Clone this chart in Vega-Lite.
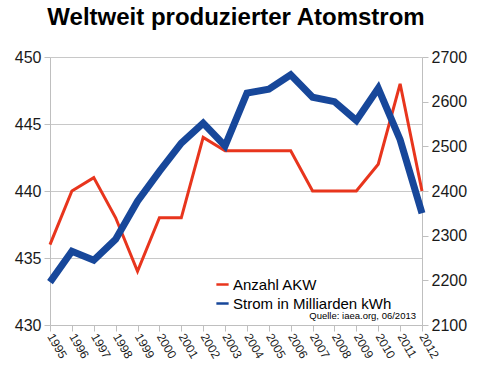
{
  "$schema": "https://vega.github.io/schema/vega-lite/v6.json",
  "width": 372,
  "height": 268,
  "autosize": "none",
  "padding": {"left": 50, "top": 57, "right": 55, "bottom": 48},
  "background": "white",
  "title": {
    "text": "Weltweit produzierter Atomstrom",
    "font": "Liberation Sans",
    "fontSize": 24,
    "fontWeight": "bold",
    "color": "#000000",
    "anchor": "middle",
    "offset": 19
  },
  "config": {
    "view": {"stroke": null},
    "axis": {
      "labelFont": "Liberation Sans",
      "labelColor": "#1a1a1a",
      "domainColor": "#bfbfbf",
      "tickColor": "#bfbfbf",
      "gridColor": "#c8c8c8",
      "title": null
    }
  },
  "data": {
    "values": [
      {"year": 1995, "series": "Anzahl AKW", "value": 436},
      {"year": 1996, "series": "Anzahl AKW", "value": 440},
      {"year": 1997, "series": "Anzahl AKW", "value": 441},
      {"year": 1998, "series": "Anzahl AKW", "value": 438},
      {"year": 1999, "series": "Anzahl AKW", "value": 434},
      {"year": 2000, "series": "Anzahl AKW", "value": 438},
      {"year": 2001, "series": "Anzahl AKW", "value": 438},
      {"year": 2002, "series": "Anzahl AKW", "value": 444},
      {"year": 2003, "series": "Anzahl AKW", "value": 443},
      {"year": 2004, "series": "Anzahl AKW", "value": 443},
      {"year": 2005, "series": "Anzahl AKW", "value": 443},
      {"year": 2006, "series": "Anzahl AKW", "value": 443},
      {"year": 2007, "series": "Anzahl AKW", "value": 440},
      {"year": 2008, "series": "Anzahl AKW", "value": 440},
      {"year": 2009, "series": "Anzahl AKW", "value": 440},
      {"year": 2010, "series": "Anzahl AKW", "value": 442},
      {"year": 2011, "series": "Anzahl AKW", "value": 448},
      {"year": 2012, "series": "Anzahl AKW", "value": 440},
      {"year": 1995, "series": "Strom in Milliarden kWh", "value": 2196},
      {"year": 1996, "series": "Strom in Milliarden kWh", "value": 2265},
      {"year": 1997, "series": "Strom in Milliarden kWh", "value": 2245},
      {"year": 1998, "series": "Strom in Milliarden kWh", "value": 2292},
      {"year": 1999, "series": "Strom in Milliarden kWh", "value": 2377},
      {"year": 2000, "series": "Strom in Milliarden kWh", "value": 2444},
      {"year": 2001, "series": "Strom in Milliarden kWh", "value": 2507},
      {"year": 2002, "series": "Strom in Milliarden kWh", "value": 2552},
      {"year": 2003, "series": "Strom in Milliarden kWh", "value": 2501},
      {"year": 2004, "series": "Strom in Milliarden kWh", "value": 2619},
      {"year": 2005, "series": "Strom in Milliarden kWh", "value": 2628},
      {"year": 2006, "series": "Strom in Milliarden kWh", "value": 2660},
      {"year": 2007, "series": "Strom in Milliarden kWh", "value": 2610},
      {"year": 2008, "series": "Strom in Milliarden kWh", "value": 2600},
      {"year": 2009, "series": "Strom in Milliarden kWh", "value": 2558},
      {"year": 2010, "series": "Strom in Milliarden kWh", "value": 2630},
      {"year": 2011, "series": "Strom in Milliarden kWh", "value": 2515},
      {"year": 2012, "series": "Strom in Milliarden kWh", "value": 2350}
    ]
  },
  "encoding": {
    "x": {
      "field": "year",
      "type": "ordinal",
      "scale": {"type": "point", "padding": 0},
      "axis": {
        "labelAngle": 60,
        "labelAlign": "left",
        "labelBaseline": "middle",
        "labelFontSize": 12,
        "labelPadding": 3,
        "tickSize": 6,
        "grid": false
      }
    }
  },
  "layer": [
    {
      "transform": [{"filter": "datum.series === 'Anzahl AKW'"}],
      "mark": {"type": "line", "strokeWidth": 3},
      "encoding": {
        "y": {
          "field": "value",
          "type": "quantitative",
          "scale": {"domain": [430, 450], "nice": false, "zero": false},
          "axis": {
            "orient": "left",
            "values": [430, 435, 440, 445, 450],
            "format": "d",
            "labelFontSize": 16,
            "tickSize": 6,
            "labelPadding": 3,
            "grid": true
          }
        },
        "color": {
          "field": "series",
          "type": "nominal",
          "scale": {
            "domain": ["Anzahl AKW", "Strom in Milliarden kWh"],
            "range": ["#e8351d", "#17479a"]
          },
          "legend": {
            "title": null,
            "orient": "none",
            "legendX": 165,
            "legendY": 220,
            "symbolType": "stroke",
            "symbolStrokeWidth": 2.5,
            "symbolSize": 150,
            "labelFont": "Liberation Sans",
            "labelFontSize": 15,
            "labelColor": "#000000",
            "rowPadding": 3,
            "labelOffset": 3
          }
        }
      }
    },
    {
      "transform": [{"filter": "datum.series === 'Strom in Milliarden kWh'"}],
      "mark": {"type": "line", "strokeWidth": 7},
      "encoding": {
        "y": {
          "field": "value",
          "type": "quantitative",
          "scale": {"domain": [2100, 2700], "nice": false, "zero": false},
          "axis": {
            "orient": "right",
            "values": [2100, 2200, 2300, 2400, 2500, 2600, 2700],
            "format": "d",
            "labelFontSize": 16,
            "tickSize": 6,
            "labelPadding": 3,
            "grid": false
          }
        },
        "color": {"field": "series", "type": "nominal"}
      }
    },
    {
      "data": {"values": [{"note": "Quelle: iaea.org, 06/2013"}]},
      "mark": {
        "type": "text",
        "font": "Liberation Sans",
        "fontSize": 9.5,
        "align": "right",
        "baseline": "bottom",
        "dx": -6,
        "dy": -4,
        "color": "#000000"
      },
      "encoding": {
        "text": {"field": "note"},
        "x": {"datum": 2012},
        "y": {
          "datum": 430,
          "type": "quantitative",
          "scale": {"domain": [430, 450], "nice": false, "zero": false},
          "axis": null
        }
      }
    }
  ],
  "resolve": {"scale": {"y": "independent"}}
}
